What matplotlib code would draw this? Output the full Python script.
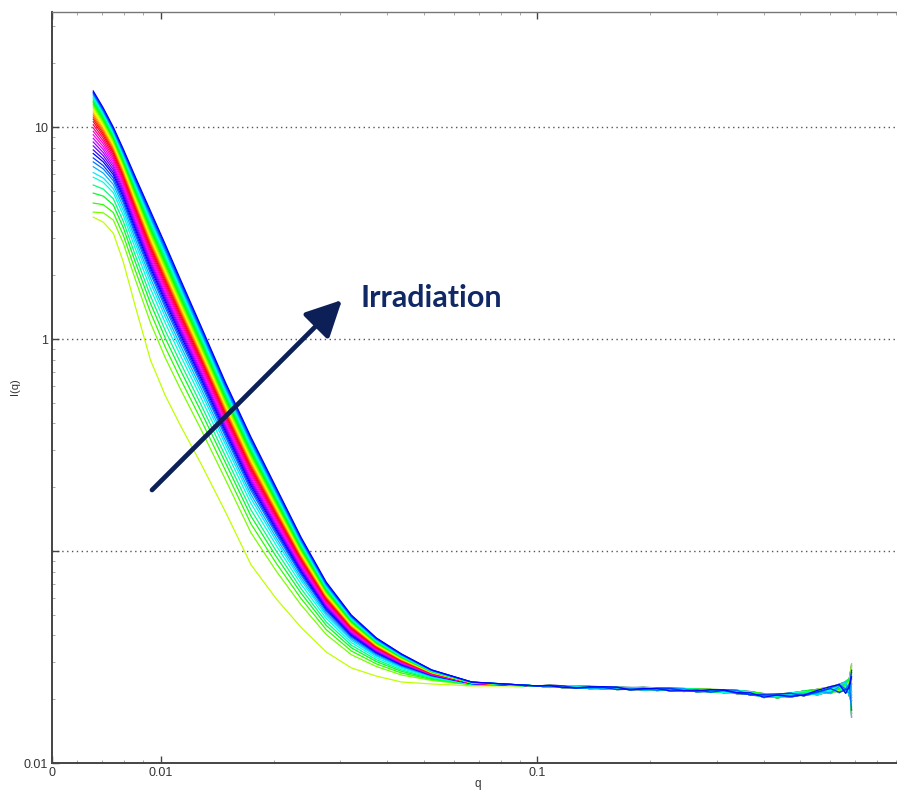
import numpy as np
import matplotlib
matplotlib.use("Agg")
import matplotlib.pyplot as plt
from matplotlib.colors import hsv_to_rgb
from matplotlib.ticker import FixedLocator, LogLocator, NullFormatter

# ---------------- data ----------------
# q sampling of the decay region
q_main = [0.006628, 0.007047, 0.007491, 0.007965, 0.008577, 0.009404, 0.01031,
          0.01131, 0.01278, 0.01490, 0.01738, 0.02026, 0.02362, 0.02754,
          0.03211, 0.03744, 0.04365, 0.05248, 0.06709, 0.1]
# lowest (first, before irradiation) curve
I_first = [3.76, 3.56, 3.16, 2.31, 1.42, 0.796, 0.538, 0.389, 0.260, 0.152,
           0.0863, 0.0597, 0.0436, 0.0334, 0.0281, 0.0257, 0.0241, 0.0236,
           0.0231, 0.0231]
# highest (last) curve
I_last = [14.8, 12.3, 10.0, 7.87, 5.81, 4.02, 2.78, 1.90, 1.16, 0.62, 0.345,
          0.200, 0.116, 0.0714, 0.0499, 0.0389, 0.0327, 0.0275, 0.0241, 0.0231]
# how far along the low-q start the mid-q position takes over
mix = [0, 0.2, 0.4, 0.6, 0.8, 1, 1, 1, 1, 1, 1, 1, 1, 1, 1, 1, 1, 1, 1, 1]

# per-curve: intensity at the first q point
start_I = [3.76, 3.97, 4.38, 4.88, 5.33, 5.80, 6.10, 6.50, 6.85, 7.15,
           7.50, 7.80, 8.15, 8.50, 8.85, 9.20, 9.55, 9.90, 10.25, 10.60,
           10.90, 11.15, 11.40, 11.65, 11.90, 12.15, 12.40, 12.60, 12.80, 13.00,
           13.20, 13.40, 13.60, 13.80, 14.00, 14.15, 14.30, 14.45, 14.60, 14.80]
# per-curve: relative position within the band in the steep part
w_mid = [0.00, 0.25, 0.32, 0.38, 0.43, 0.48, 0.52, 0.55, 0.58, 0.60,
         0.62, 0.635, 0.65, 0.665, 0.68, 0.695, 0.71, 0.725, 0.74, 0.755,
         0.77, 0.782, 0.794, 0.806, 0.818, 0.830, 0.842, 0.854, 0.866, 0.878,
         0.890, 0.902, 0.914, 0.926, 0.938, 0.950, 0.962, 0.975, 0.987, 1.0]
# per-curve hue (degrees, wraps around once)
hue_deg = [75, 92, 110, 128, 150, 172, 185, 198, 212, 226,
           240, 252, 265, 277, 290, 302, 314, 327, 339, 352,
           364, 377, 389, 401, 414, 426, 439, 451, 463, 476,
           488, 501, 513, 525, 538, 550, 563, 575, 588, 600]

# flat high-q tail, shared by all curves
tail_q = [0.108, 0.117, 0.127, 0.138, 0.15, 0.163, 0.177, 0.192, 0.208, 0.226,
          0.245, 0.266, 0.289, 0.313, 0.34, 0.369, 0.4, 0.434, 0.471, 0.511,
          0.555, 0.602, 0.635, 0.66, 0.675, 0.684]
tail_I = [0.0230, 0.0229, 0.0228, 0.0227, 0.0226, 0.0225, 0.0224, 0.0224,
          0.0223, 0.0222, 0.0221, 0.0220, 0.0219, 0.0218, 0.0216, 0.0213,
          0.0208, 0.0207, 0.0209, 0.0213, 0.0216, 0.0221, 0.0225, 0.0228,
          0.0229, 0.0229]
tail_spread = [0.012, 0.012, 0.012, 0.014, 0.014, 0.014, 0.014, 0.016, 0.016,
               0.016, 0.017, 0.017, 0.018, 0.018, 0.020, 0.020, 0.022, 0.022,
               0.024, 0.027, 0.032, 0.038, 0.048, 0.065, 0.10, 0.28]
wiggle = [0.6, -0.9, 0.3, 1.0, -0.4, -0.8, 0.9, -0.2, 0.5, -1.0, 0.7, -0.5,
          0.1, 0.8, -0.7, 0.4, -0.3]

x_ticks = [0.00515, 0.01, 0.1]
x_ticklabels = ["0", "0.01", "0.1"]
y_ticks = [0.01, 0.1, 1, 10]
y_ticklabels = ["0.01", "", "1", "10"]

# ---------------- figure ----------------
W, H = 897, 791
fig = plt.figure(figsize=(W / 100, H / 100), dpi=100)
ax = fig.add_axes([52 / W, 28 / H, 860 / W, 751 / H])
ax.set_xscale("log")
ax.set_yscale("log")

logA0 = np.log10(I_first)
logA1 = np.log10(I_last)
span0 = logA1[0] - logA0[0]
mix_a = np.array(mix)

for k in range(len(start_I)):
    w_start = (np.log10(start_I[k]) - logA0[0]) / span0
    w = w_start + mix_a * (w_mid[k] - w_start)
    main = 10 ** (logA0 + w * (logA1 - logA0))
    tail = [tail_I[j] * (1 + tail_spread[j] * wiggle[(3 * j + 5 * k) % len(wiggle)])
            for j in range(len(tail_q))]
    qq = list(q_main) + list(tail_q)
    ii = list(main) + tail
    h = (hue_deg[k] % 360) / 360.0
    col = hsv_to_rgb((h, 1.0, 1.0))
    ax.plot(qq, ii, color=col, lw=0.9, solid_joinstyle="round")

ax.set_xlim(0.00515, 0.99)
ax.set_ylim(0.01, 34.9)

# grid: dotted horizontal at decades
for yv in [0.1, 1, 10]:
    ax.axhline(yv, color="#555555", lw=1.0, ls=(0, (1, 2.5)), zorder=0)

ax.xaxis.set_major_locator(FixedLocator(x_ticks))
ax.set_xticklabels(x_ticklabels)
ax.xaxis.set_minor_locator(LogLocator(base=10, subs=np.arange(2, 10)))
ax.xaxis.set_minor_formatter(NullFormatter())
ax.yaxis.set_major_locator(FixedLocator(y_ticks))
ax.set_yticklabels(y_ticklabels)
ax.yaxis.set_minor_locator(LogLocator(base=10, subs=np.arange(2, 10)))
ax.yaxis.set_minor_formatter(NullFormatter())

ax.tick_params(which="major", direction="in", length=5, width=1.0,
               color="#444444", labelsize=9, labelcolor="#333333",
               top=True, right=False, pad=3)
ax.tick_params(which="minor", direction="in", length=2.5, width=0.6,
               color="#999999", top=True, right=False)
for lab in ax.get_xticklabels() + ax.get_yticklabels():
    lab.set_fontfamily("Liberation Sans")

ax.spines["right"].set_visible(False)
ax.spines["left"].set_color("#444444")
ax.spines["left"].set_linewidth(1.4)
ax.spines["bottom"].set_color("#444444")
ax.spines["bottom"].set_linewidth(1.4)
ax.spines["top"].set_color("#777777")
ax.spines["top"].set_linewidth(1.0)

fig.text(15 / W, 1 - 387 / H, "I(q)", rotation=90, ha="center", va="center",
         fontsize=8, color="#333333", family="Liberation Sans")
fig.text(478 / W, 1.5 / H, "q", ha="center", va="bottom",
         fontsize=8.5, color="#333333", family="Liberation Sans")

# annotation arrow and label
ax.annotate("", xy=(342, H - 300), xycoords="figure pixels",
            xytext=(152, H - 490), textcoords="figure pixels",
            arrowprops=dict(arrowstyle="-|>,head_length=1.1,head_width=0.55",
                            color="#0c1f56", lw=3.4, mutation_scale=20,
                            shrinkA=0, shrinkB=0))
fig.text(360 / W, 1 - 307 / H, "Irradiation", ha="left", va="baseline",
         fontsize=22, fontweight="bold", color="#112866", family="Lato")

fig.savefig("out.png", dpi=100)
